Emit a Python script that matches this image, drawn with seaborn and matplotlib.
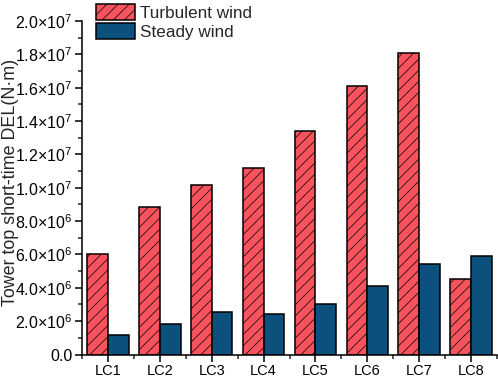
import numpy as np
import pandas as pd
import matplotlib
matplotlib.use("Agg")
import matplotlib.pyplot as plt
import seaborn as sns
from matplotlib.ticker import FixedLocator, FuncFormatter, MultipleLocator

categories = ["LC1", "LC2", "LC3", "LC4", "LC5", "LC6", "LC7", "LC8"]
turbulent = [6.03e6, 8.83e6, 1.016e7, 1.116e7, 1.338e7, 1.609e7, 1.811e7, 4.51e6]
steady = [1.18e6, 1.84e6, 2.56e6, 2.40e6, 3.04e6, 4.11e6, 5.41e6, 5.91e6]
series_names = ["Turbulent wind", "Steady wind"]
yticks = [0, 2e6, 4e6, 6e6, 8e6, 1e7, 1.2e7, 1.4e7, 1.6e7, 1.8e7, 2e7]

sns.set_style("ticks")
plt.rcParams['font.family'] = ['Liberation Sans', 'DejaVu Sans']
plt.rcParams['mathtext.fontset'] = 'custom'
plt.rcParams['mathtext.rm'] = 'Liberation Sans'
plt.rcParams['mathtext.it'] = 'Liberation Sans'
plt.rcParams['hatch.linewidth'] = 0.5

df = pd.DataFrame({
    "case": categories * 2,
    "value": turbulent + steady,
    "series": [series_names[0]] * len(categories) + [series_names[1]] * len(categories),
})

fig = plt.figure(figsize=(4.98, 3.79), dpi=100)
ax = fig.add_axes([0.1647, 0.0646, 0.8333, 0.88])
palette = {series_names[0]: "#F9535E", series_names[1]: "#0C507E"}
sns.barplot(data=df, x="case", y="value", hue="series", palette=palette,
            width=0.8, saturation=1, edgecolor="black", linewidth=1.1, ax=ax)

n = len(categories)
for i, p in enumerate(ax.patches[:n]):
    p.set_hatch("///")

ax.set_xlim(-0.5, 7.5)
ax.set_ylim(0, 2e7)
ax.yaxis.set_major_locator(FixedLocator(yticks))
ax.yaxis.set_minor_locator(MultipleLocator(1e6))
ax.xaxis.set_minor_locator(FixedLocator(np.arange(-0.5, 8, 1.0)))

def fmt(v, pos):
    if v == 0:
        return "0.0"
    e = int(np.floor(np.log10(v)))
    m = v / 10**e
    return r"$%.1f{\times}10^{%d}$" % (m, e)

ax.yaxis.set_major_formatter(FuncFormatter(fmt))
ax.set_xlabel("")
ax.set_ylabel("Tower top short-time DEL(N·m)", fontsize=12.9)
ax.yaxis.set_label_coords(-0.151, 0.515)
ax.tick_params(axis='both', which='major', direction='out', length=5, width=1.1, colors='black')
ax.tick_params(axis='both', which='minor', direction='out', length=3, width=1.1)
ax.tick_params(axis='y', which='major', pad=2, labelsize=11.5)
ax.tick_params(axis='x', which='major', pad=1.5, labelsize=10.5)
for s in ["top", "right"]:
    ax.spines[s].set_visible(False)
for s in ["left", "bottom"]:
    ax.spines[s].set_linewidth(1.1)
    ax.spines[s].set_color("black")

handles, labels = ax.get_legend_handles_labels()
handles[0].set_hatch("///")
leg = ax.legend(handles, labels, loc="upper left", bbox_to_anchor=(0.017, 1.072),
                frameon=False, fontsize=12.3, handlelength=2.3, handleheight=1.1,
                handletextpad=0.3, labelspacing=0.12, borderaxespad=0)

fig.savefig("out.png", dpi=100)
